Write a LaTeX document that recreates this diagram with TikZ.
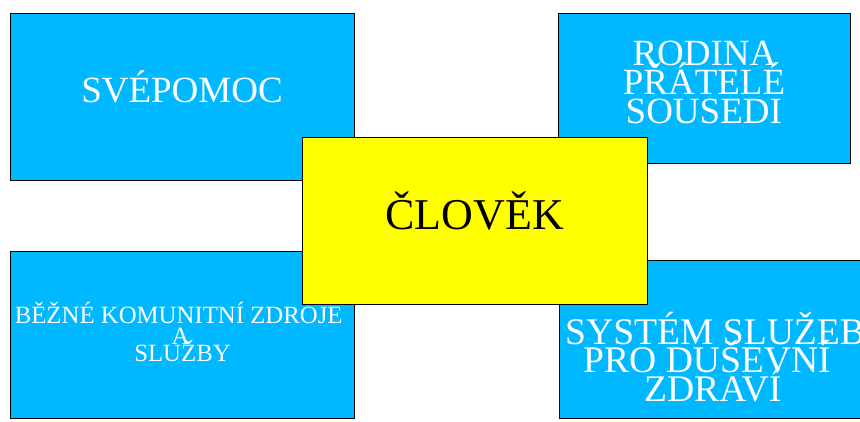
\documentclass[tikz,border=0pt]{standalone}
\usepackage{fontspec}
\setmainfont{Liberation Serif}
\definecolor{skyfill}{RGB}{0,184,255}
\definecolor{centrefill}{RGB}{255,255,0}
\begin{document}
\begin{tikzpicture}[x=1pt,y=-1pt,
  panel/.style={draw=black,line width=0.8pt,fill=skyfill,rectangle,
    inner sep=0pt,outer sep=0pt,anchor=north west},
  core/.style={panel,fill=centrefill},
  lbl/.style={text=white,inner sep=0pt,anchor=base},
  big/.style={lbl,font=\fontsize{37}{40}\selectfont},
  mid/.style={lbl,font=\fontsize{37}{40}\selectfont},
  wide/.style={lbl,font=\fontsize{37.6}{40}\selectfont},
  small/.style={lbl,font=\fontsize{24.8}{28}\selectfont}]
\path[use as bounding box,clip] (0,0) rectangle (860,421);

% outer boxes
\node[panel,minimum width=344pt,minimum height=167pt] (self) at (10.5,13) {};
\node[panel,minimum width=292pt,minimum height=150pt] (family) at (558.5,13.3) {};
\node[panel,minimum width=344pt,minimum height=166.5pt] (community) at (10.5,251.7) {};
\node[panel,minimum width=320pt,minimum height=158.3pt] (services) at (559,260) {};

% centre box on top
\node[core,minimum width=344.3pt,minimum height=167pt] (person) at (302.7,137.3) {};

% labels
\node[big] (selfA) at (182,102.7) {SVÉPOMOC};

\node[mid] (famA) at (704.5,65) {RODINA};
\node[mid] (famB) at (704,94.3) {PŘÁTELÉ};
\node[mid] (famC) at (703.8,123.3) {SOUSEDI};

\node[small] (comA) at (178.7,323.3) {BĚŽNÉ KOMUNITNÍ ZDROJE};
\node[small] (comB) at (180.7,344) {A};
\node[small] (comC) at (182.5,361.7) {SLUŽBY};

\node[wide,anchor=base west] (srvA) at (565,344.3) {SYSTÉM SLUŽEB};
\node[wide] (srvB) at (707,372.7) {PRO DUŠEVNÍ};
\node[wide] (srvC) at (712.7,401.7) {ZDRAVÍ};

\node[lbl,text=black,font=\fontsize{44}{48}\selectfont] (personA) at (474.7,229) {ČLOVĚK};
\end{tikzpicture}
\end{document}
